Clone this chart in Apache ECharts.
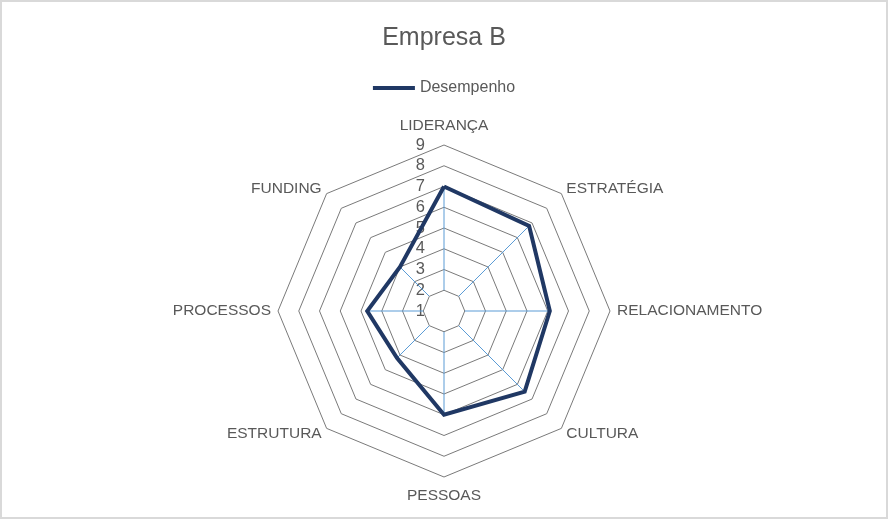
<!DOCTYPE html>
<html><head><meta charset="utf-8">
<script src="https://cdn.jsdelivr.net/npm/echarts@6/dist/echarts.min.js"></script>
<style>
html,body{margin:0;padding:0;background:#fff}
#c{position:absolute;left:0;top:0;width:888px;height:519px}
#b{position:absolute;left:0;top:0;width:888px;height:519px;box-sizing:border-box;border:2px solid #d9d9d9;pointer-events:none}
</style>
</head><body><div id="c"></div><div id="b"></div>
<script>
const chartTitle = 'Empresa B';
const seriesName = 'Desempenho';
const categories = ['LIDERANÇA','ESTRATÉGIA','RELACIONAMENTO','CULTURA','PESSOAS','ESTRUTURA','PROCESSOS','FUNDING'];
const values = [7, 6.8, 6.1, 6.5, 6, 4.2, 4.7, 4];
const tickLabels = [1,2,3,4,5,6,7,8,9];
const axisMin = 1, axisMax = 9, spokeStart = 2;

const FONT = "'Liberation Sans', Arial, sans-serif";
const TXT = '#595959';
const CX = 444, CY = 311, R = 166;

// ECharts radar lays indicators counterclockwise; reorder so they read clockwise
const n = categories.length;
const order = [0]; for (let i = n - 1; i >= 1; i--) order.push(i);
const indicator = order.map(i => ({ name: categories[i], min: axisMin, max: axisMax }));
const radarValues = order.map(i => values[i]);

const spokes = categories.map((c, i) => ({
  type: 'line', coordinateSystem: 'polar', name: 'spoke' + i,
  data: [[spokeStart, i * 360 / n], [values[i], i * 360 / n]],
  symbol: 'none', silent: true, z: 1,
  lineStyle: { color: '#5B9BD5', width: 1 }
}));

const chart = echarts.init(document.getElementById('c'));
chart.setOption({
  animation: false,
  backgroundColor: '#fff',
  title: { text: chartTitle, left: 'center', top: 26, padding: 0,
    textStyle: { fontFamily: FONT, fontSize: 25, fontWeight: 'normal', color: TXT } },
  legend: { data: [seriesName], top: 75, left: 'center',
    icon: 'path://M0,0L42,0L42,4L0,4Z', itemWidth: 42, itemHeight: 4, itemGap: 4,
    textStyle: { fontFamily: FONT, fontSize: 16, color: TXT } },
  radar: {
    center: [CX, CY], radius: R, startAngle: 90, shape: 'polygon',
    splitNumber: axisMax - axisMin, indicator: indicator, nameGap: 7,
    axisName: { color: TXT, fontFamily: FONT, fontSize: 15.5,
      formatter: (name) => (name === categories[0] ? '{t|' + name + '}' : name === categories[4] ? '{b|' + name + '}' : name),
      rich: { t: { padding: [0, 0, 4, 0], fontSize: 15.5, color: TXT, fontFamily: FONT },
              b: { padding: [4, 0, 0, 0], fontSize: 15.5, color: TXT, fontFamily: FONT } } },
    axisLine: { show: false },
    splitLine: { lineStyle: { color: '#7a7a7a', width: 1 } },
    splitArea: { show: false },
    axisLabel: { show: false }
  },
  polar: { center: [CX, CY], radius: R },
  angleAxis: { type: 'value', min: 0, max: 360, startAngle: 90, clockwise: true, show: false },
  radiusAxis: {
    type: 'value', min: axisMin, max: axisMax, interval: 1,
    axisLine: { show: false }, axisTick: { show: false }, splitLine: { show: false },
    axisLabel: { color: TXT, fontFamily: FONT, fontSize: 16.5, margin: 19,
      formatter: v => (tickLabels.indexOf(v) >= 0 ? String(v) : '') }
  },
  series: spokes.concat([{
    type: 'radar', name: seriesName, z: 3, symbol: 'none',
    itemStyle: { color: '#203864' },
    lineStyle: { color: '#203864', width: 4, join: 'miter' },
    data: [{ value: radarValues, name: seriesName }]
  }])
});
</script>
</body></html>
